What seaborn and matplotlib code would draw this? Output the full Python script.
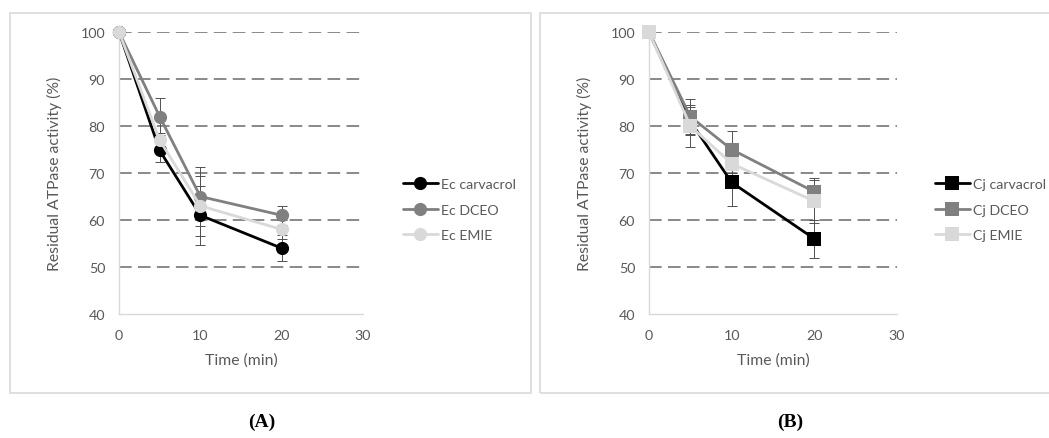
import numpy as np
import pandas as pd
import seaborn as sns
import matplotlib.pyplot as plt
from matplotlib.patches import Rectangle

sns.set_theme(style="white")
plt.rcParams['font.family'] = ['Lato', 'DejaVu Sans']

# data
time_min = [0, 5, 10, 20]

ec_names = ['Ec carvacrol', 'Ec DCEO', 'Ec EMIE']
ec_vals = [[100, 74.8, 61, 54],
           [100, 82, 65, 61],
           [100, 77, 63, 58]]
ec_err = [[0, 2.5, 6.3, 2.8],
          [0, 4, 6.3, 2],
          [0, 1.5, 6.3, 2]]

cj_names = ['Cj carvacrol', 'Cj DCEO', 'Cj EMIE']
cj_vals = [[100, 81, 68, 56],
           [100, 82, 75, 66],
           [100, 80, 72, 64]]
cj_err = [[0, 3, 5, 4],
          [0, 3.7, 4, 3],
          [0, 4.5, 2, 4.6]]

colors = ['#000000', '#808080', '#d9d9d9']
txt = '#595959'


def make_df(names, vals):
    rows = []
    for n, v in zip(names, vals):
        for t, y in zip(time_min, v):
            rows.append({'Time': t, 'Activity': y, 'Series': n})
    return pd.DataFrame(rows)


def draw(ax, names, vals, errs, marker, legend_x):
    df = make_df(names, vals)
    pal = dict(zip(names, colors))
    for n, v, e in zip(names, vals, errs):
        ax.errorbar(time_min, v, yerr=e, fmt='none', ecolor='#505050',
                    elinewidth=0.7, capsize=3.5, capthick=0.7, zorder=2)
    sns.lineplot(data=df, x='Time', y='Activity', hue='Series', palette=pal,
                 marker=marker, markersize=9.5, markeredgewidth=0, linewidth=2,
                 ax=ax, legend=True, zorder=3, clip_on=False)
    ax.set_xlim(0, 30)
    ax.set_ylim(40, 100)
    ax.set_xticks([0, 10, 20, 30])
    ax.set_yticks([40, 50, 60, 70, 80, 90, 100])
    ax.set_xlabel('Time (min)', color=txt, fontsize=11.3, labelpad=8)
    ax.set_ylabel('Residual ATPase activity (%)', color=txt, fontsize=11.3, labelpad=13)
    ax.tick_params(axis='both', length=0, colors=txt, labelsize=10.3)
    ax.tick_params(axis='x', pad=11)
    ax.tick_params(axis='y', pad=10)
    for s in ['top', 'right']:
        ax.spines[s].set_visible(False)
    for s in ['left', 'bottom']:
        ax.spines[s].set_color('#d9d9d9')
        ax.spines[s].set_linewidth(1)
    ax.yaxis.grid(True, color='#808080', linestyle=(0, (7, 3.5)), linewidth=1.3)
    ax.set_axisbelow(True)
    for gl, val in zip(ax.yaxis.get_gridlines(), ax.get_yticks()):
        if val == 40:
            gl.set_visible(False)
    h, l = ax.get_legend_handles_labels()
    ax.legend(h, l, loc='center left', bbox_to_anchor=(legend_x, 0.52),
              bbox_transform=fig.transFigure, frameon=False, fontsize=10.2,
              labelcolor=txt, handlelength=2.5, handletextpad=0.2,
              labelspacing=0.95, borderaxespad=0)


fig = plt.figure(figsize=(10.49, 4.39), dpi=100)
W, H = 1049, 439
axA = fig.add_axes([119 / W, 1 - 315 / H, 244 / W, 282 / H])
axB = fig.add_axes([649 / W, 1 - 315 / H, 248 / W, 282 / H])

draw(axA, ec_names, ec_vals, ec_err, 'o', 397 / W)
draw(axB, cj_names, cj_vals, cj_err, 's', 929 / W)

# panel frames
fig.patches.append(Rectangle((10 / W, 1 - 394 / H), 521 / W, 380 / H,
                             transform=fig.transFigure, fill=False,
                             edgecolor='#d9d9d9', linewidth=1.2))
fig.patches.append(Rectangle((540 / W, 1 - 394 / H), 520 / W, 380 / H,
                             transform=fig.transFigure, fill=False,
                             edgecolor='#d9d9d9', linewidth=1.2))

fig.text(262 / W, 1 - 422 / H, '(A)', ha='center', va='center',
         fontsize=14, fontweight='bold', family='Liberation Serif', color='black')
fig.text(790 / W, 1 - 422 / H, '(B)', ha='center', va='center',
         fontsize=14, fontweight='bold', family='Liberation Serif', color='black')

fig.savefig('out.png', dpi=100)
